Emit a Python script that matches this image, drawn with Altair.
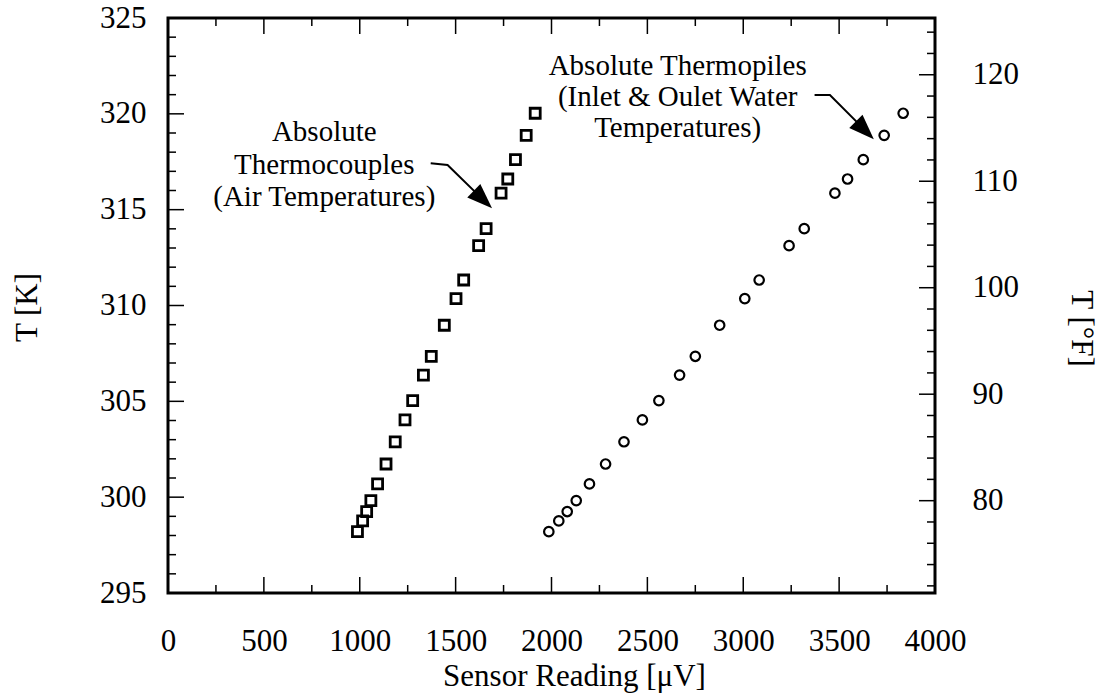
import altair as alt
import pandas as pd

# ---------------- data ----------------
temps_k = [298.20, 298.76, 299.25, 299.82, 300.69, 301.73, 302.89, 304.03, 305.04,
           306.37, 307.35, 308.97, 310.36, 311.33, 313.12, 314.01, 315.86, 316.60,
           317.61, 318.88, 320.03]
thermocouple_uv = [988, 1015, 1036, 1058, 1093, 1137, 1185, 1236, 1276, 1332, 1373,
                   1441, 1502, 1542, 1620, 1659, 1737, 1772, 1812, 1868, 1915]
thermopile_uv = [1986, 2038, 2082, 2129, 2198, 2282, 2378, 2474, 2560, 2668, 2750,
                 2877, 3008, 3083, 3239, 3318, 3478, 3544, 3626, 3735, 3834]

# tick values
x_major = [0, 500, 1000, 1500, 2000, 2500, 3000, 3500, 4000]
x_minor = [250, 750, 1250, 1750, 2250, 2750, 3250, 3750]
k_major = [295, 300, 305, 310, 315, 320, 325]
k_minor = [k for k in range(296, 325) if k % 5 != 0]
f_major = [80, 90, 100, 110, 120]
f_minor = [f for f in range(72, 126, 2) if f % 10 != 0]

# annotations (data units)
note_text = ["Absolute", "Thermocouples", "(Air Temperatures)",
             "Absolute Thermopiles", "(Inlet & Oulet Water", "Temperatures)"]
note_x = [815, 815, 815, 2658, 2658, 2658]
note_y = [319.07, 317.35, 315.64, 322.52, 320.88, 319.24]

arrow_id = [1, 1, 1, 2, 2, 2]
arrow_order = [0, 1, 2, 0, 1, 2]
arrow_x = [1370, 1458, 1640, 3372, 3452, 3640]
arrow_y = [317.42, 317.33, 315.55, 320.98, 320.98, 319.1]
tip_x = [1690, 3681]
tip_y = [315.07, 318.67]
tip_angle = [44, 45]

K_DOMAIN = [295, 325]
F_DOMAIN = [(295 - 273.15) * 1.8 + 32, (325 - 273.15) * 1.8 + 32]
X_DOMAIN = [0, 4000]

W, H = 767, 575
FONT = "Liberation Serif"
FS_LABEL = 31
FS_TITLE = 31
FS_NOTE = 29
MAJ, MIN = 16, 8

xs = alt.Scale(domain=X_DOMAIN, nice=False, zero=False)
ks = alt.Scale(domain=K_DOMAIN, nice=False, zero=False)
fs = alt.Scale(domain=F_DOMAIN, nice=False, zero=False)

left_axis = alt.Axis(values=k_major, ticks=False, domain=False, grid=False,
                     labelPadding=22, title="T [K]", titleX=-141, titleY=289,
                     titleAngle=270, titleAlign="center", titleBaseline="middle")
bottom_axis = alt.Axis(values=x_major, format="d", ticks=False, domain=False, grid=False,
                       labelPadding=33, labelFlush=False, labelOverlap=False,
                       title="Sensor Reading [μV]", titleX=406, titleY=83,
                       titleAlign="center", titleBaseline="middle")
right_axis = alt.Axis(orient="right", values=f_major, ticks=False, domain=False, grid=False,
                      labelPadding=37, title="T [°F]", titleX=145, titleY=310,
                      titleAngle=90, titleAlign="center", titleBaseline="middle")

def X(field):
    return alt.X(field, type="quantitative", scale=xs, axis=bottom_axis)

def Y(field):
    return alt.Y(field, type="quantitative", scale=ks, axis=left_axis)

pts = pd.DataFrame({"k": temps_k * 2,
                    "x": thermocouple_uv + thermopile_uv,
                    "s": ["tc"] * len(temps_k) + ["tp"] * len(temps_k)})

squares = alt.Chart(pts[pts.s == "tc"]).mark_point(
    shape="square", filled=False, size=100, strokeWidth=2.8, color="black", opacity=1
).encode(x=X("x"), y=Y("k"))

circles = alt.Chart(pts[pts.s == "tp"]).mark_point(
    shape="circle", filled=False, size=90, strokeWidth=2.2, color="black", opacity=1
).encode(x=X("x"), y=Y("k"))

notes = alt.Chart(pd.DataFrame({"t": note_text, "x": note_x, "k": note_y})).mark_text(
    font=FONT, fontSize=FS_NOTE, color="black", align="center", baseline="middle"
).encode(x=X("x"), y=Y("k"), text="t:N")

leaders = alt.Chart(pd.DataFrame({"id": arrow_id, "o": arrow_order, "x": arrow_x, "k": arrow_y})).mark_line(
    color="black", strokeWidth=2
).encode(x=X("x"), y=Y("k"), detail="id:N", order="o:Q")

heads = []
for i in range(2):
    heads.append(alt.Chart(pd.DataFrame({"x": [tip_x[i]], "k": [tip_y[i]]})).mark_point(
        shape="M0,0L-1,-0.37L-1,0.37Z", filled=True, size=2580, angle=tip_angle[i],
        color="black", opacity=1, strokeWidth=0
    ).encode(x=X("x"), y=Y("k")))

def kticks(vals, length):
    return alt.Chart(pd.DataFrame({"k": vals})).mark_rule(color="black", strokeWidth=1.5).encode(
        y=Y("k"), x=alt.value(0), x2=alt.value(length))

def xticks(vals, length):
    base = alt.Chart(pd.DataFrame({"x": vals}))
    bot = base.mark_rule(color="black", strokeWidth=1.5).encode(
        x=X("x"), y=alt.value(H), y2=alt.value(H - length))
    top = base.mark_rule(color="black", strokeWidth=1.5).encode(
        x=X("x"), y=alt.value(0), y2=alt.value(length))
    return [bot, top]

def fticks(vals, length):
    return alt.Chart(pd.DataFrame({"f": vals})).mark_rule(color="black", strokeWidth=1.5).encode(
        y=alt.Y("f:Q", scale=fs, axis=right_axis), x=alt.value(W), x2=alt.value(W - length))

left_group = alt.layer(
    squares, circles, notes, leaders, *heads,
    kticks(k_major, MAJ), kticks(k_minor, MIN),
    *xticks(x_major, MAJ), *xticks(x_minor, MIN),
)
right_group = alt.layer(fticks(f_major, MAJ), fticks(f_minor, MIN))

chart = alt.layer(left_group, right_group).resolve_scale(y="independent").properties(
    width=W, height=H,
    autosize=alt.AutoSizeParams(type="none"),
    padding={"left": 168, "top": 18, "right": 166, "bottom": 101},
    background="white",
).configure_view(stroke="black", strokeWidth=3).configure_axis(
    labelFont=FONT, labelFontSize=FS_LABEL, labelColor="black",
    titleFont=FONT, titleFontSize=FS_TITLE, titleColor="black", titleFontWeight="normal",
)

chart.save("out.html", embed_options={"renderer": "svg", "actions": False})
